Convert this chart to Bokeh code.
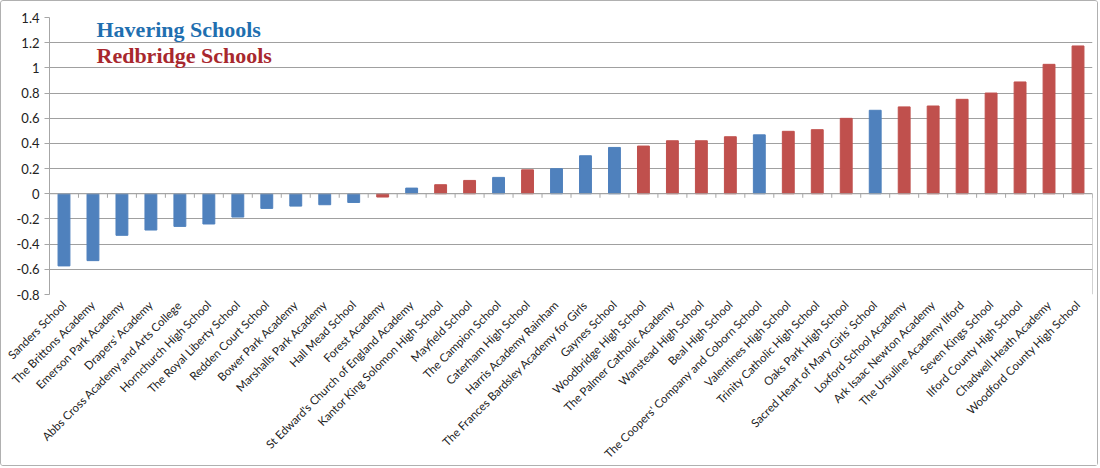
import math
from bokeh.plotting import figure
from bokeh.models import ColumnDataSource, FactorRange, Label, FixedTicker
from bokeh.transform import dodge
from bokeh.embed import file_html
from bokeh.resources import INLINE

schools = [
    "Sanders School", "The Brittons Academy", "Emerson Park Academy", "Drapers' Academy",
    "Abbs Cross Academy and Arts College", "Hornchurch High School", "The Royal Liberty School",
    "Redden Court School", "Bower Park Academy", "Marshalls Park Academy", "Hall Mead School",
    "Forest Academy", "St Edward's Church of England Academy", "Kantor King Solomon High School",
    "Mayfield School", "The Campion School", "Caterham High School", "Harris Academy Rainham",
    "The Frances Bardsley Academy for Girls", "Gaynes School", "Woodbridge High School",
    "The Palmer Catholic Academy", "Wanstead High School", "Beal High School",
    "The Coopers' Company and Coborn School", "Valentines High School",
    "Trinity Catholic High School", "Oaks Park High School", "Sacred Heart of Mary Girls' School",
    "Loxford School Academy", "Ark Isaac Newton Academy", "The Ursuline Academy Ilford",
    "Seven Kings School", "Ilford County High School", "Chadwell Heath Academy",
    "Woodford County High School",
]
scores = [
    -0.573, -0.531, -0.330, -0.288, -0.259, -0.240, -0.185, -0.116, -0.098, -0.087, -0.069,
    -0.026, 0.045, 0.072, 0.106, 0.130, 0.190, 0.199, 0.302, 0.368, 0.379, 0.421, 0.421,
    0.453, 0.468, 0.496, 0.509, 0.599, 0.663, 0.690, 0.697, 0.750, 0.800, 0.888, 1.028, 1.174,
]
borough = [
    "H", "H", "H", "H", "H", "H", "H", "H", "H", "H", "H",
    "R", "H", "R", "R", "H", "R", "H", "H", "H", "R", "R", "R",
    "R", "H", "R", "R", "R", "H", "R", "R", "R", "R", "R", "R", "R",
]
y_ticks = [-0.8, -0.6, -0.4, -0.2, 0, 0.2, 0.4, 0.6, 0.8, 1, 1.2, 1.4]
legend_names = ["Havering Schools", "Redbridge Schools"]

BAR_COLORS = {"H": "#4F81BD", "R": "#C0504D"}
src = ColumnDataSource(dict(
    school=schools, score=scores,
    color=[BAR_COLORS[b] for b in borough],
    zero=[0] * len(schools), tick=[-0.032] * len(schools),
))

p = figure(
    x_range=FactorRange(factors=schools, range_padding=0),
    y_range=(y_ticks[0], y_ticks[-1]),
    width=1098, height=466,
    min_border_left=48, min_border_right=7, min_border_top=16, min_border_bottom=171,
    output_backend="svg", toolbar_location=None,
)
p.outline_line_color = None
p.background_fill_color = "white"

p.vbar(x="school", top="score", bottom=0, width=0.41, color="color", source=src)

# horizontal axis line at zero with boundary tick marks
p.segment(x0=dodge("school", -0.5, range=p.x_range), y0="zero",
          x1=dodge("school", 0.5, range=p.x_range), y1="zero",
          line_color="#A6A6A6", line_width=1.2, source=src)
p.segment(x0=dodge("school", 0.5, range=p.x_range), y0="zero",
          x1=dodge("school", 0.5, range=p.x_range), y1="tick",
          line_color="#A6A6A6", line_width=1, source=src)
# right plot-area border below zero
last = ColumnDataSource(dict(school=[schools[-1]], y0=[y_ticks[0]], y1=[0]))
p.segment(x0=dodge("school", 0.5, range=p.x_range), y0="y0",
          x1=dodge("school", 0.5, range=p.x_range), y1="y1",
          line_color="#A6A6A6", line_width=1, source=last)

p.ygrid.ticker = FixedTicker(ticks=y_ticks)
p.ygrid.grid_line_color = "#A0A0A0"
p.ygrid.grid_line_width = 1
p.xgrid.grid_line_color = None

p.yaxis.ticker = FixedTicker(ticks=y_ticks)
p.yaxis.major_label_overrides = {t: f"{t:g}" for t in y_ticks}
p.yaxis.axis_line_color = "#A6A6A6"
p.yaxis.major_tick_line_color = "#A6A6A6"
p.yaxis.major_tick_out = 5
p.yaxis.major_tick_in = 0
p.yaxis.minor_tick_line_color = None
p.yaxis.major_label_text_font = "Lato"
p.yaxis.major_label_text_font_size = "13px"
p.yaxis.major_label_text_color = "#222222"
p.yaxis.major_label_standoff = 5

p.xaxis.axis_line_color = None
p.xaxis.major_tick_line_color = None
p.xaxis.major_tick_out = 0
p.xaxis.major_tick_in = 0
p.xaxis.major_label_orientation = math.pi / 4
p.xaxis.major_label_text_font = "Lato"
p.xaxis.major_label_text_font_size = "11.5px"
p.xaxis.major_label_text_color = "#222222"
p.xaxis.major_label_standoff = 8

p.add_layout(Label(x=47, y=265, x_units="screen", y_units="screen",
                   text=legend_names[0], text_font="Liberation Serif",
                   text_font_style="bold", text_font_size="22px",
                   text_color="#1F6FB0", text_baseline="alphabetic"))
p.add_layout(Label(x=47, y=239, x_units="screen", y_units="screen",
                   text=legend_names[1], text_font="Liberation Serif",
                   text_font_style="bold", text_font_size="22px",
                   text_color="#A8282E", text_baseline="alphabetic"))

p.styles = {"border": "1px solid #B0B0B0", "border-radius": "3px"}

open("out.html", "w").write(file_html(p, INLINE))
